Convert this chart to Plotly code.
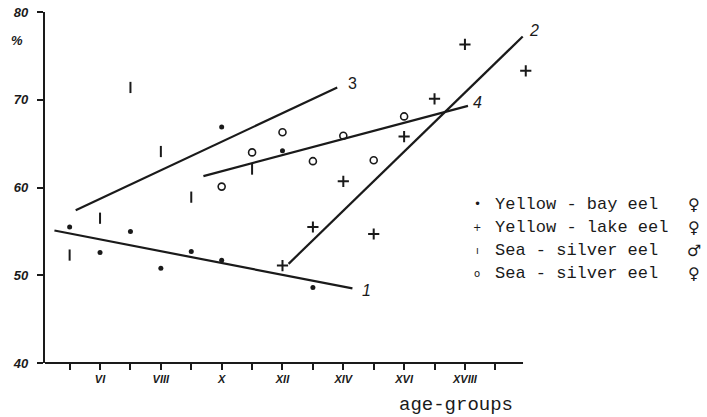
import plotly.graph_objects as go

# Age groups (years) and percentage values for each eel group
bay_age = [5, 6, 7, 8, 9, 10, 10, 12, 13]
bay_val = [55.5, 52.6, 55.0, 50.8, 52.7, 51.7, 66.9, 64.2, 48.6]

lake_age = [12, 13, 14, 15, 16, 17, 18, 20]
lake_val = [51.1, 55.5, 60.7, 54.7, 65.8, 70.1, 76.3, 73.3]

silver_male_age = [5, 6, 7, 8, 9, 11]
silver_male_val = [52.3, 56.5, 71.4, 64.1, 58.9, 62.1]

silver_female_age = [10, 11, 12, 13, 14, 15, 16]
silver_female_val = [60.1, 64.0, 66.3, 63.0, 65.9, 63.1, 68.1]

# Fitted trend lines (start / end) with their numbers
trend_names = ["1", "2", "3", "4"]
trend_age = [[4.5, 14.3], [12.2, 19.9], [5.2, 13.8], [9.4, 18.1]]
trend_val = [[55.1, 48.5], [51.3, 77.2], [57.4, 71.4], [61.3, 69.3]]

tick_ages = list(range(5, 20))
tick_text = ["", "VI", "", "VIII", "", "X", "", "XII", "", "XIV", "", "XVI", "", "XVIII", ""]
y_ticks = [40, 50, 60, 70, 80]

legend_labels = ["Yellow - bay eel", "Yellow - lake eel", "Sea - silver eel", "Sea - silver eel"]
legend_glyphs = ["\u2022", "+", "\u0131", "o"]
legend_sex = ["\u2640", "\u2640", "\u2642", "\u2640"]

INK = "#1a1a1a"
TYPEWRITER = "Liberation Mono"
W, H = 707, 417
X_MIN, X_AXIS_END, X_MAX = 4.19, 19.91, 20.6
PX_PER_YEAR = 30.41
L, T, B = 45, 12, 54
R = W - L - round((X_MAX - X_MIN) * PX_PER_YEAR)


def px(x):
    return (x - L) / (W - L - R)


def py(y):
    return (H - B - y) / (H - T - B)


fig = go.Figure()

for ages, vals in zip(trend_age, trend_val):
    fig.add_trace(go.Scatter(x=ages, y=vals, mode="lines",
                             line=dict(color=INK, width=2.2), hoverinfo="skip"))

fig.add_trace(go.Scatter(x=bay_age, y=bay_val, mode="markers",
                         marker=dict(symbol="circle", size=5, color=INK)))
fig.add_trace(go.Scatter(x=lake_age, y=lake_val, mode="markers",
                         marker=dict(symbol="cross-thin", size=8,
                                     line=dict(color=INK, width=2))))
fig.add_trace(go.Scatter(x=silver_male_age, y=silver_male_val, mode="markers",
                         marker=dict(symbol="line-ns", size=8,
                                     line=dict(color=INK, width=2))))
fig.add_trace(go.Scatter(x=silver_female_age, y=silver_female_val, mode="markers",
                         marker=dict(symbol="circle-open", size=7, color=INK,
                                     line=dict(color=INK, width=1.6))))

annotations = []
# trend line numbers next to the line ends
label_shift = {"1": (14, -2), "2": (11, 6), "3": (15, 4), "4": (10, 3)}
for name, ages, vals in zip(trend_names, trend_age, trend_val):
    dx, dy = label_shift[name]
    annotations.append(dict(x=ages[1], y=vals[1], xref="x", yref="y", text=name,
                            showarrow=False, xshift=dx, yshift=dy,
                            font=dict(family="Liberation Sans", size=16, color=INK,
                                      style="normal" if name == "3" else "italic")))

# legend block
for i, (lab, gl, sx) in enumerate(zip(legend_labels, legend_glyphs, legend_sex)):
    yy = 204 + 23 * i
    annotations.append(dict(x=px(493), y=py(yy), xref="paper", yref="paper", text=lab,
                            showarrow=False, xanchor="left", yanchor="middle",
                            font=dict(family=TYPEWRITER, size=17, color=INK)))
    annotations.append(dict(x=px(477), y=py(yy), xref="paper", yref="paper", text=gl,
                            showarrow=False, xanchor="center", yanchor="middle",
                            font=dict(family="DejaVu Sans", size=10 if gl != "\u2022" else 12,
                                      color=INK)))
    annotations.append(dict(x=px(694), y=py(yy), xref="paper", yref="paper", text=sx,
                            showarrow=False, xanchor="center", yanchor="middle",
                            font=dict(family="DejaVu Sans", size=16, color=INK)))

annotations.append(dict(x=px(456), y=py(405), xref="paper", yref="paper", text="age-groups",
                        showarrow=False, xanchor="center", yanchor="middle",
                        font=dict(family=TYPEWRITER, size=19, color=INK)))
annotations.append(dict(x=px(17), y=py(41), xref="paper", yref="paper", text="%",
                        showarrow=False, xanchor="center", yanchor="middle",
                        font=dict(family="Liberation Sans", size=13, color=INK,
                                  weight="bold", style="italic")))

# x axis line stops at the last age group; the plot area runs a little further
shapes = [dict(type="line", xref="x", yref="paper", x0=X_MIN, x1=X_AXIS_END, y0=0, y1=0,
               line=dict(color=INK, width=2.2))]

fig.update_layout(
    width=W, height=H, autosize=False,
    margin=dict(l=L, r=R, t=T, b=B),
    paper_bgcolor="white", plot_bgcolor="white",
    showlegend=False,
    annotations=annotations,
    shapes=shapes,
    xaxis=dict(range=[X_MIN, X_MAX], tickvals=tick_ages, ticktext=tick_text,
               ticks="outside", ticklen=6, tickwidth=1.5, tickcolor=INK,
               showline=False, showgrid=False, zeroline=False, automargin=False,
               tickfont=dict(family="Liberation Sans", size=11, color=INK,
                             weight="bold", style="italic")),
    yaxis=dict(range=[40, 80], tickvals=y_ticks,
               ticks="outside", ticklen=6, tickwidth=1.5, tickcolor=INK,
               showline=True, linecolor=INK, linewidth=2.2,
               showgrid=False, zeroline=False, ticklabelstandoff=6, automargin=False,
               tickfont=dict(family="Liberation Sans", size=13, color=INK,
                             weight="bold", style="italic")),
)

fig.write_html("out.html")
